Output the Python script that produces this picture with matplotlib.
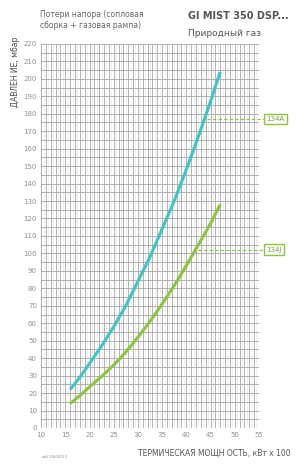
import numpy as np
import matplotlib.pyplot as plt

# readings from the chart
power = [16, 18, 20, 22.5, 25, 27.5, 30, 32.5, 35, 37.5, 40, 42.5, 45, 47]
p_134A = [22, 29, 37, 47, 58, 70, 84, 98, 114, 130, 148, 167, 187, 204]
p_134J = [14, 18.5, 23.5, 29.5, 36, 43.5, 52, 61, 71, 81.5, 93, 105, 117, 128]
marks = ['134A', '134J']
mark_y = [177, 102]
mark_x = [44.3, 42.4]

cyan = '#3ec4c4'
green = '#8cc43c'
grey = '#8f8f8f'

fig = plt.figure(figsize=(3.0, 4.65), dpi=100)
ax = fig.add_axes([0.137, 0.0796, 0.726, 0.826])

for v in np.arange(10.5, 55, 1):
    ax.axvline(v, color='#ededed', lw=0.6, zorder=0)
for v in np.arange(10, 55.1, 1):
    ax.axvline(v, color='#a6a6a6', lw=0.6, zorder=0)
for h in np.arange(0, 220.1, 5):
    ax.axhline(h, color='#a6a6a6', lw=0.6, zorder=0)

ax.plot(power, p_134A, color=cyan, lw=2.2, solid_capstyle='butt')
ax.plot(power, p_134J, color=green, lw=2.2, solid_capstyle='butt')

for lab, y, x0 in zip(marks, mark_y, mark_x):
    ax.plot([x0, 56.3], [y, y], color=green, lw=0.8, ls=(0, (3, 2)), clip_on=False)
    ax.text(56.5, y, lab, fontsize=5, color='#7a9a3a', va='center', ha='left',
            bbox=dict(boxstyle='square,pad=0.35', fc='white', ec=green, lw=1.0),
            clip_on=False)

ax.set_xlim(10, 55)
ax.set_ylim(0, 220)
ax.set_xticks(range(10, 56, 5))
ax.set_yticks(range(0, 221, 10))
ax.tick_params(labelsize=5, colors=grey, length=0, pad=3)
for s in ax.spines.values():
    s.set_visible(False)

fig.text(0.05, 0.922, 'ДАВЛЕН ИЕ, мбар', rotation=90, fontsize=5.5, color='#4a4a4a',
         ha='center', va='top')
fig.text(0.97, 0.025, 'ТЕРМИЧЕСКАЯ МОЩН ОСТЬ, кВт х 100', fontsize=5.5,
         color='#555555', ha='right', va='center')
fig.text(0.14, 0.015, 'ed3.06/2013', fontsize=3, color=grey, style='italic')
fig.text(0.135, 0.935, 'Потери напора (сопловая\nсборка + газовая рампа)',
         fontsize=5.5, color='#666666', va='bottom', linespacing=1.3)
fig.text(0.625, 0.955, 'GI MIST 350 DSP...', fontsize=7, fontweight='bold',
         color='#555555', va='bottom')
fig.text(0.625, 0.918, 'Природный газ', fontsize=6.5, color='#555555', va='bottom')

fig.savefig('out.png', dpi=100)
